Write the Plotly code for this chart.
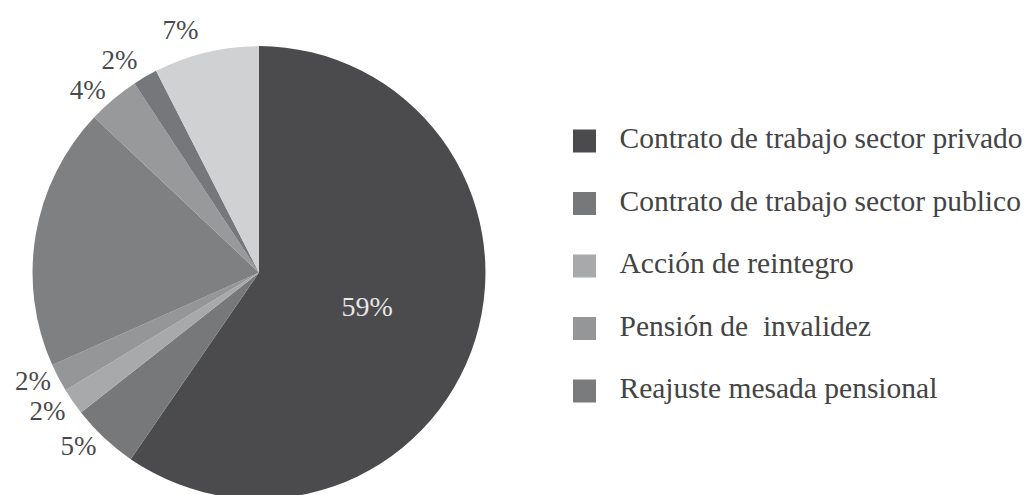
import plotly.graph_objects as go

# slices clockwise from 12 o'clock
labels = ["Contrato de trabajo sector privado", "Contrato de trabajo sector publico",
          "Acción de reintegro", "Pensión de  invalidez", "Reajuste mesada pensional",
          "Otros 1", "Otros 2", "Otros 3"]
values = [59.5, 4.8, 1.9, 2.0, 18.7, 3.7, 1.75, 7.5]
slice_text = ["59%", "5%", "2%", "2%", "", "4%", "2%", "7%"]
colors = ["#4b4b4d", "#77787a", "#a8a9ab", "#959698", "#7f8082", "#98999b", "#76777a", "#d0d1d3"]

legend_names = labels[:5]
legend_colors = ["#4b4b4d", "#77787a", "#a8a9ab", "#959698", "#7a7b7d"]
legend_rows = [0, 1, 2, 3, 4]

FONT = "Liberation Serif"

fig = go.Figure()
fig.add_trace(go.Pie(
    labels=labels, values=values, sort=False, direction="clockwise", rotation=0,
    marker=dict(colors=colors, line=dict(width=0)),
    text=slice_text, textinfo="text",
    textposition=["inside", "outside", "outside", "outside", "none", "outside", "outside", "outside"],
    insidetextfont=dict(family=FONT, size=28, color="#e6e6e6"),
    outsidetextfont=dict(family=FONT, size=27, color="#4a4a4a"),
    domain=dict(x=[0.0237, 0.4613], y=[0.008, 0.923]),
    showlegend=False,
))

# legend drawn as its own small chart on the right
fig.add_trace(go.Scatter(
    x=[0] * 5, y=legend_rows, mode="markers",
    marker=dict(symbol="square", size=23, color=legend_colors),
    xaxis="x", yaxis="y", showlegend=False, hoverinfo="skip",
))
fig.add_trace(go.Scatter(
    x=[35] * 5, y=legend_rows, mode="text", text=legend_names,
    textposition="middle right",
    textfont=dict(family=FONT, size=29.5, color="#444444"),
    xaxis="x", yaxis="y", showlegend=False, hoverinfo="skip",
))

fig.update_layout(
    width=1035, height=495,
    margin=dict(l=0, r=0, t=0, b=0),
    paper_bgcolor="white", plot_bgcolor="white",
    xaxis=dict(domain=[0.5, 1.0], range=[-59, 458.5], visible=False),
    yaxis=dict(domain=[0, 1], range=[5.792, -2.128], visible=False),
    font=dict(family=FONT, size=28, color="#444444"),
)

# no leader lines on the outside labels
post = """
var gd = document.getElementById('{plot_id}');
function hideLines() {
  gd.querySelectorAll('path.textline').forEach(function (p) { p.style.display = 'none'; });
}
hideLines();
gd.on('plotly_afterplot', hideLines);
"""

fig.write_html("out.html", post_script=post, config={"displayModeBar": False})
